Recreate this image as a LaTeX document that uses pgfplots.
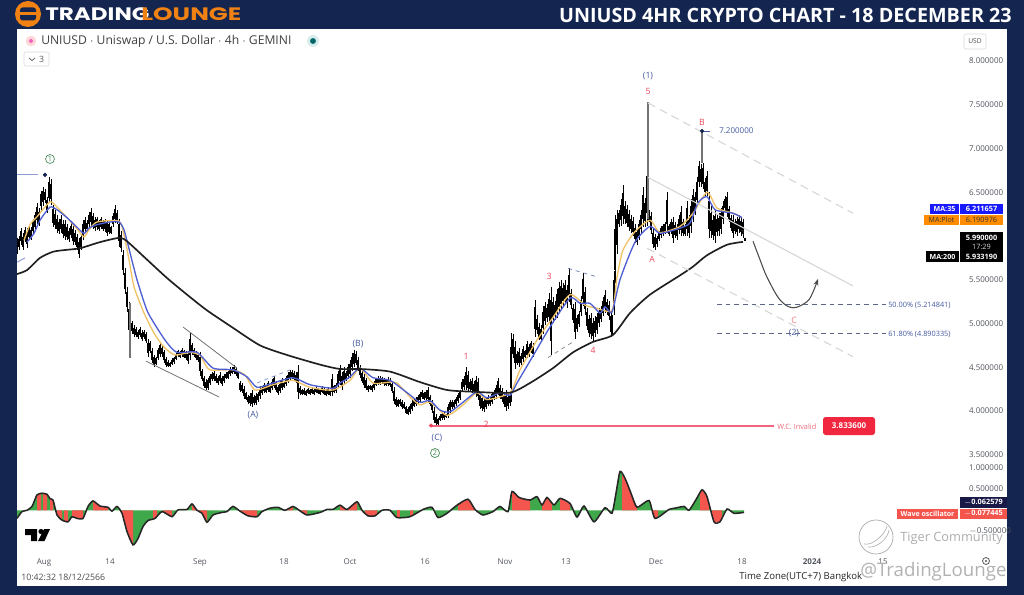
\documentclass[border=0pt]{standalone}
\usepackage{fontspec}
\usepackage{pgfplots}
\usepackage{pgfplotstable}
\pgfplotsset{compat=1.18}
\usetikzlibrary{arrows.meta}
\setmainfont{Open Sans}
\newfontfamily\logofont{Poppins}
\definecolor{navy}{RGB}{20,38,79}
\definecolor{logoorange}{RGB}{240,130,20}
\definecolor{ma35}{RGB}{80,95,210}
\definecolor{maplot}{RGB}{240,195,105}
\definecolor{ribbon}{RGB}{140,155,210}
\definecolor{waveblue}{RGB}{70,90,160}
\definecolor{wavered}{RGB}{235,70,90}
\definecolor{invalidline}{RGB}{240,100,125}
\definecolor{boxred}{RGB}{240,39,63}
\definecolor{greenlabel}{RGB}{70,140,90}
\definecolor{oscgreen}{RGB}{62,168,75}
\definecolor{oscred}{RGB}{244,86,78}
\definecolor{ticktext}{RGB}{80,84,92}
\newcommand{\fs}[1]{\fontsize{#1}{#1}\selectfont}

% x columns = horizontal position on the time scale, y = price
% x h l
\pgfplotstableread{
x h l
17 5.98 5.79
19 6.00 5.84
21 6.09 5.90
23 6.03 5.84
25 6.10 5.93
27 6.09 5.86
29 6.12 5.96
31 6.10 5.96
33 6.20 6.02
35 6.28 6.06
37 6.38 6.14
39 6.32 6.12
41 6.52 6.30
43 6.56 6.34
45 6.54 6.38
47 6.45 6.26
49 6.67 6.38
51 6.65 6.36
53 6.36 6.10
55 6.30 6.08
57 6.24 6.04
59 6.20 6.02
61 6.24 6.04
63 6.18 5.98
65 6.18 5.95
67 6.14 5.95
69 6.09 5.93
71 6.15 5.98
73 6.12 5.90
75 6.07 5.90
77 6.02 5.84
79 5.98 5.75
81 6.02 5.84
83 6.18 5.95
85 6.22 6.04
87 6.18 6.05
89 6.28 6.10
91 6.32 6.12
93 6.26 6.08
95 6.22 6.06
97 6.22 6.07
99 6.18 6.06
101 6.22 6.08
103 6.18 6.06
105 6.20 6.05
107 6.18 6.00
109 6.16 6.02
111 6.12 6.02
113 6.26 6.10
115 6.35 6.15
117 6.30 6.14
119 6.20 5.88
121 6.06 5.82
123 5.84 5.55
125 5.63 5.34
127 5.42 5.13
129 5.25 4.85
132 5.03 4.88
134 4.98 4.85
136 4.96 4.84
138 4.92 4.82
140 4.96 4.84
142 4.92 4.80
144 4.93 4.82
146 4.90 4.78
148 4.82 4.62
150 4.80 4.66
152 4.72 4.55
154 4.64 4.50
156 4.62 4.52
158 4.72 4.58
160 4.79 4.62
162 4.75 4.62
164 4.70 4.55
166 4.62 4.50
168 4.58 4.50
170 4.56 4.50
172 4.60 4.52
174 4.62 4.54
176 4.66 4.58
178 4.70 4.62
180 4.68 4.60
182 4.72 4.62
184 4.70 4.60
186 4.68 4.58
188 4.68 4.54
190 4.89 4.58
192 4.78 4.64
194 4.72 4.62
196 4.68 4.58
198 4.66 4.56
200 4.67 4.40
202 4.48 4.34
204 4.40 4.26
206 4.36 4.24
208 4.38 4.24
210 4.42 4.30
212 4.44 4.34
214 4.46 4.34
216 4.42 4.32
218 4.40 4.30
220 4.44 4.32
222 4.40 4.28
224 4.42 4.32
226 4.44 4.36
228 4.46 4.36
230 4.50 4.40
232 4.50 4.42
234 4.52 4.42
236 4.50 4.40
238 4.46 4.36
240 4.34 4.22
242 4.32 4.20
244 4.28 4.14
246 4.22 4.12
248 4.18 4.08
250 4.20 4.06
252 4.24 4.04
254 4.18 4.07
256 4.20 4.07
258 4.22 4.10
260 4.28 4.14
262 4.28 4.18
264 4.32 4.20
266 4.30 4.20
268 4.34 4.22
270 4.30 4.20
272 4.36 4.24
274 4.40 4.26
276 4.34 4.22
278 4.30 4.18
280 4.34 4.20
282 4.38 4.24
284 4.34 4.26
286 4.40 4.28
288 4.44 4.32
290 4.47 4.34
292 4.47 4.36
294 4.46 4.34
296 4.44 4.32
298 4.52 4.14
300 4.28 4.18
302 4.25 4.18
304 4.26 4.18
306 4.24 4.17
308 4.26 4.19
310 4.25 4.18
312 4.27 4.19
314 4.26 4.18
316 4.28 4.20
318 4.26 4.19
320 4.25 4.18
322 4.28 4.20
324 4.26 4.18
326 4.25 4.17
328 4.27 4.18
330 4.24 4.17
332 4.42 4.17
334 4.30 4.20
336 4.32 4.20
338 4.46 4.26
340 4.52 4.30
342 4.44 4.24
344 4.50 4.30
346 4.46 4.34
348 4.54 4.36
350 4.58 4.38
352 4.66 4.46
354 4.70 4.50
356 4.68 4.52
358 4.62 4.46
360 4.52 4.38
362 4.46 4.32
364 4.42 4.26
366 4.38 4.24
368 4.30 4.22
370 4.30 4.24
372 4.30 4.22
374 4.34 4.24
376 4.38 4.28
378 4.40 4.30
380 4.40 4.30
382 4.39 4.31
384 4.38 4.29
386 4.37 4.28
388 4.39 4.29
390 4.38 4.27
392 4.34 4.20
394 4.27 4.08
396 4.16 4.04
398 4.14 4.04
400 4.14 4.06
402 4.12 4.02
404 4.10 4.02
406 4.06 3.96
408 4.04 3.95
410 4.08 3.97
412 4.12 4.00
414 4.14 4.04
416 4.16 4.06
418 4.18 4.08
420 4.22 4.10
422 4.24 4.14
424 4.22 4.12
426 4.24 4.12
428 4.27 4.10
430 4.18 4.06
432 4.12 3.98
434 4.04 3.86
436 3.96 3.84
438 3.92 3.84
440 3.96 3.88
442 3.98 3.90
444 4.00 3.90
446 3.96 3.92
448 4.08 3.92
450 4.13 3.98
452 4.13 4.02
454 4.12 4.02
456 4.16 4.06
458 4.21 4.09
460 4.24 4.12
462 4.36 4.22
464 4.40 4.24
466 4.50 4.24
468 4.46 4.22
470 4.36 4.22
472 4.38 4.20
474 4.34 4.18
476 4.40 4.16
478 4.38 4.12
480 4.22 4.02
482 4.18 4.00
484 4.14 3.99
486 4.16 4.02
488 4.18 4.06
490 4.16 4.06
492 4.22 4.08
494 4.24 4.12
496 4.30 4.14
498 4.38 4.18
500 4.30 4.14
502 4.26 4.10
504 4.22 4.04
506 4.24 4.00
508 4.20 4.02
510 4.22 4.06
511 4.89 4.10
513 4.88 4.60
515 4.80 4.48
517 4.68 4.52
519 4.72 4.50
521 4.66 4.52
523 4.74 4.56
525 4.70 4.60
527 4.80 4.60
529 4.76 4.62
531 4.80 4.66
533 4.78 4.62
535 5.27 4.85
537 5.10 4.88
539 5.00 4.81
541 4.98 4.79
543 5.20 4.88
545 5.25 4.98
547 5.22 5.02
549 5.35 5.00
551 5.42 4.64
553 5.30 5.00
555 5.26 5.04
557 5.40 5.06
559 5.48 5.12
561 5.50 5.16
563 5.46 5.20
565 5.50 5.22
567 5.44 5.18
569 5.63 5.24
571 5.40 5.16
573 5.22 5.00
575 5.25 4.82
577 5.10 4.90
579 5.14 4.96
581 5.32 5.08
583 5.58 5.20
585 5.42 5.10
587 5.18 4.92
589 5.10 4.84
591 5.12 4.82
593 5.06 4.80
595 5.08 4.84
597 5.12 4.88
599 5.18 4.96
601 5.20 5.02
603 5.30 5.08
605 5.38 5.12
607 5.28 5.10
609 5.26 5.04
611 5.14 4.84
612 5.10 4.87
614 5.60 5.10
615 6.24 5.46
617 6.30 5.80
619 6.30 6.10
621 6.42 6.12
623 6.58 6.14
625 6.40 6.14
627 6.36 6.10
629 6.30 6.06
631 6.24 6.04
633 6.22 6.00
635 6.14 5.92
637 6.08 5.90
639 6.18 5.96
641 6.30 6.02
643 6.56 6.10
645 6.44 6.10
647 6.83 6.12
649 6.30 6.16
651 6.28 6.02
653 6.08 5.86
655 6.02 5.84
657 6.00 5.88
659 6.06 5.94
661 6.12 5.98
663 6.14 6.00
665 6.16 6.02
667 6.50 6.04
669 6.14 6.00
671 6.20 6.02
673 6.22 5.92
675 6.16 5.98
677 6.14 5.96
679 6.24 6.02
681 6.34 6.00
683 6.20 6.00
685 6.14 6.00
687 6.40 6.00
689 6.24 5.98
691 6.42 6.04
693 6.54 6.16
695 6.50 6.24
697 6.68 6.34
699 6.86 6.56
701 6.82 6.56
703 6.84 6.54
705 6.66 6.46
707 6.74 6.46
709 6.50 5.98
711 6.34 5.98
713 6.24 5.96
715 6.30 5.92
717 6.24 6.00
719 6.26 6.00
721 6.32 6.02
723 6.40 6.14
725 6.46 6.28
727 6.50 6.22
729 6.34 6.16
731 6.24 6.06
733 6.24 5.98
735 6.20 6.02
737 6.22 6.00
739 6.24 6.04
741 6.22 6.00
743 6.20 5.98
745 5.98 5.94
}\candles

\pgfplotstableread{
x h l
130 5.23 4.60
648 7.53 6.20
702 7.20 6.84
}\spikes

\pgfplotstableread{
x y
17 5.565
27 5.61
40 5.75
53 5.82
65 5.84
80 5.86
100 5.93
120 5.98
128 5.93
147 5.73
167 5.52
187 5.33
207 5.15
233 4.95
260 4.75
287 4.64
320 4.53
340 4.48
360 4.48
390 4.45
420 4.33
447 4.24
473 4.22
510 4.21
530 4.32
553 4.49
573 4.67
593 4.79
613 4.87
630 5.12
650 5.33
680 5.55
693 5.65
707 5.78
727 5.90
743 5.933
}\matwohundred

\pgfplotstableread{
x y
27 5.93
34 6.03
40 6.18
50 6.33
57 6.30
67 6.21
77 6.10
84 6.03
89 6.09
97 6.13
110 6.16
119 6.16
124 6.07
130 5.81
137 5.50
147 5.15
157 4.95
167 4.78
177 4.67
197 4.67
213 4.49
233 4.47
247 4.39
257 4.27
273 4.32
293 4.38
310 4.30
333 4.26
340 4.32
350 4.39
360 4.49
373 4.38
390 4.35
407 4.21
420 4.10
430 4.12
440 4.01
450 3.99
463 4.10
477 4.22
487 4.15
500 4.21
510 4.18
517 4.32
532 4.61
550 4.96
570 5.29
580 5.23
590 5.23
600 5.12
605 5.19
612 5.13
620 5.50
635 5.93
650 6.11
660 6.03
680 6.09
690 6.15
698 6.38
707 6.45
715 6.30
733 6.26
742 6.21
}\mathirtyfive

\pgfplotstableread{
x y
24 5.95
30 6.13
37 6.22
50 6.39
57 6.33
67 6.21
77 6.08
84 5.99
89 6.07
97 6.16
119 6.17
124 6.01
129 5.73
134 5.42
144 5.12
154 4.89
164 4.73
175 4.64
190 4.67
200 4.64
203 4.58
210 4.47
233 4.47
245 4.41
255 4.24
273 4.30
293 4.35
310 4.27
333 4.24
350 4.35
360 4.49
373 4.32
390 4.33
397 4.32
410 4.16
420 4.07
430 4.10
447 3.95
463 4.07
477 4.21
487 4.13
510 4.21
520 4.47
537 4.81
553 5.07
570 5.33
585 5.21
595 5.18
612 5.15
617 5.53
623 5.84
635 6.05
650 6.18
660 6.04
680 6.11
693 6.26
707 6.50
717 6.32
733 6.26
742 6.21
}\maplotdata

\pgfplotstableread{
x y
17 -.19
22 -.03
27 0
32 .09
37 .36
42 .40
47 .375
50 .27
53 .24
57 -.11
62 -.23
68 -.27
72 -.15
77 -.19
83 -.19
88 .09
93 .22
100 .10
108 .07
112 -.02
117 .09
122 -.07
127 -.5
133 -.81
138 -.66
143 -.38
148 -.24
155 -.19
162 -.03
172 -.15
178 .01
187 .02
192 .15
197 0
202 -.07
207 -.28
213 -.11
222 -.05
227 -.03
233 .09
240 -.02
248 -.13
257 -.15
262 -.03
270 .05
278 .07
285 0
293 .09
298 .02
307 -.11
320 -.05
327 .02
333 .02
340 .12
347 .02
357 .2
362 0
368 -.13
375 -.13
382 0
390 0
397 -.17
410 -.15
423 .02
432 .07
438 -.17
447 -.07
457 .12
468 .26
475 .02
483 -.11
493 -.03
500 .09
508 -.03
512 .44
519 .30
530 .24
537 .32
542 .125
547 .30
554 .125
560 .28
570 .16
577 -.16
584 .10
594 -.27
605 .06
612 -.07
616 .40
620 .91
625 .75
631 .40
637 .07
649 .23
655 -.19
669 .02
675 .05
684 .09
689 0
696 .25
702 .48
707 .32
714 -.27
720 -.27
727 .03
734 -.07
744 -.05
}\osc

\newcommand{\redarea}[1]{\addplot[fill=oscred, draw=none, forget plot] coordinates {#1} \closedcycle;}

\begin{document}
\begin{tikzpicture}[font=\fs{6}]
\path[use as bounding box] (0,0) rectangle (768pt,-446.25pt);
\begin{scope}[x=0.75pt, y=-0.75pt]
\fill[navy] (0,0) rectangle (1024,595);
\fill[white] (17,29) rectangle (1007,586);

% header
\fill[logoorange] (28,14) circle (9.75pt);
\fill[navy, rounded corners=2pt] (20,7.5) rectangle (36,20.5);
\fill[logoorange] (19,12.5) rectangle (37,15.5);
\node[anchor=west, inner sep=0, xscale=1.28, text=white, font=\logofont\bfseries\fs{13.5}] at (45,14) {TRADING};
\node[anchor=west, inner sep=0, xscale=1.38, text=logoorange, font=\logofont\bfseries\fs{13.5}] at (141,14) {LOUNGE};
\node[anchor=east, inner sep=0, text=white, font=\bfseries\fs{14.8}] at (1012,15) {UNIUSD 4HR CRYPTO CHART - 18 DECEMBER 23};
\end{scope}

% price pane
\begin{axis}[
  at={(12.75pt,-21.75pt)}, anchor=north west, scale only axis,
  width=709.5pt, height=324.75pt,
  xmin=17, xmax=963, ymin=3.417, ymax=8.366,
  axis line style={draw=none}, major tick length=0,
  xtick=\empty, ytick={3.5,4,4.5,5,5.5,6,6.5,7,7.5,8},
  yticklabel pos=right, yticklabel style={font=\fs{6}, text=ticktext, xshift=1pt},
  /pgf/number format/assume math mode=true,
  /pgf/number format/fixed, /pgf/number format/fixed zerofill, /pgf/number format/precision=6,
]
% wicks, then bodies over the middle of each range
\addplot[draw=none, forget plot, error bars/.cd, y dir=minus, y explicit, error mark=none,
  error bar style={black, line width=0.45pt}]
  table[x=x, y=h, y error expr=\thisrow{h}-\thisrow{l}] {\candles};
\addplot[draw=none, forget plot, error bars/.cd, y dir=both, y explicit, error mark=none,
  error bar style={black, line width=1.05pt}]
  table[x=x, y expr=(\thisrow{h}+\thisrow{l})/2, y error expr=0.3*(\thisrow{h}-\thisrow{l})] {\candles};
\addplot[draw=none, forget plot, error bars/.cd, y dir=minus, y explicit, error mark=none,
  error bar style={black!55, line width=1.1pt}]
  table[x=x, y=h, y error expr=\thisrow{h}-\thisrow{l}] {\spikes};
\addplot[maplot, line width=1pt, smooth, tension=0.4] table[x=x, y=y] {\maplotdata};
\addplot[ma35, line width=1pt, smooth, tension=0.4] table[x=x, y=y] {\mathirtyfive};
\addplot[black!88, line width=1.25pt, smooth, tension=0.4] table[x=x, y=y] {\matwohundred};
% wave channel
\addplot[black!16, dashed, dash pattern=on 6pt off 4pt, line width=0.8pt] coordinates {(648,7.52)(853,6.26)};
\addplot[black!16, line width=0.8pt] coordinates {(648,6.67)(853,5.43)};
\addplot[black!16, dashed, dash pattern=on 6pt off 4pt, line width=0.8pt] coordinates {(647,5.86)(853,4.62)};
% earlier flag lines
\addplot[black!55, line width=0.6pt] coordinates {(183,4.96)(237,4.49)};
\addplot[black!55, line width=0.6pt] coordinates {(146,4.57)(219,4.16)};
\addplot[ribbon, dashed, line width=0.6pt] coordinates {(257,4.32)(290,4.47)};
\addplot[black!45, dashed, line width=0.6pt] coordinates {(548,4.61)(573,4.79)};
\addplot[waveblue!70, dashed, line width=0.6pt] coordinates {(568,5.63)(598,5.53)};
\addplot[ribbon, line width=0.7pt] coordinates {(17,6.70)(38,6.70)};
\addplot[ribbon, line width=0.7pt] coordinates {(17,5.70)(25,5.75)};
\addplot[only marks, mark=*, mark size=1.4pt, navy] coordinates {(45,6.70)(702,7.20)};
\addplot[waveblue, line width=0.6pt] coordinates {(702,7.20)(710,7.20)};
% fib levels and invalidation
\addplot[navy!70, dash pattern=on 3.5pt off 3pt, line width=0.6pt] coordinates {(717,5.214841)(886,5.214841)};
\addplot[navy!70, dash pattern=on 3.5pt off 3pt, line width=0.6pt] coordinates {(717,4.890335)(886,4.890335)};
\addplot[color=invalidline, solid, line width=1.5pt] coordinates {(431,3.8336)(774,3.8336)};
\addplot[only marks, mark=*, mark size=1.3pt, wavered] coordinates {(431,3.8336)};
% projected path
\addplot[black!70, line width=0.8pt, smooth, tension=0.6, -{Stealth[length=5pt]}]
  coordinates {(753,5.94)(760,5.73)(767,5.53)(780,5.27)(793,5.18)(807,5.25)(813,5.36)(818,5.51)};
\end{axis}

% oscillator pane
\begin{axis}[
  at={(12.75pt,-346.5pt)}, anchor=north west, scale only axis,
  width=709.5pt, height=64.5pt,
  xmin=17, xmax=963, ymin=-0.883, ymax=1.131,
  axis line style={draw=none}, major tick length=0,
  xtick={44,110,200,284,350,425,505,566,656,742,812,883},
  xticklabels={Aug,14,Sep,18,Oct,16,Nov,13,Dec,18,\textbf{2024},15},
  xticklabel style={font=\fs{6}, text=ticktext, yshift=-4.5pt},
  ytick={-0.5,0.5,1},
  yticklabels={$-$0.500000,0.500000,1.000000},
  yticklabel pos=right, yticklabel style={font=\fs{6}, text=ticktext, xshift=1pt},
]
\addplot[fill=oscgreen, draw=none, forget plot] table[x=x, y=y] {\osc} \closedcycle;
\redarea{(37,.36)(41,.39)}
\redarea{(43,.40)(47,.375)}
\redarea{(50,.27)(53,.24)}
\redarea{(57,-.11)(62,-.23)}
\redarea{(64,-.24)(68,-.27)}
\redarea{(72,-.15)(77,-.19)(83,-.19)}
\redarea{(93,.22)(100,.10)(108,.07)}
\redarea{(122,-.07)(127,-.5)(133,-.81)}
\redarea{(153,-.20)(157,-.15)}
\redarea{(163,-.04)(172,-.15)}
\redarea{(192,.15)(197,0)(202,-.07)(207,-.28)}
\redarea{(240,-.02)(248,-.13)(257,-.15)}
\redarea{(287,.03)(293,.09)}
\redarea{(300,-.02)(307,-.11)}
\redarea{(340,.12)(347,.02)(357,.2)}
\redarea{(365,-.07)(368,-.13)(375,-.13)(377,-.08)}
\redarea{(397,-.17)(400,-.17)}
\redarea{(410,-.15)(413,-.12)}
\redarea{(458,.13)(468,.26)(475,.02)}
\redarea{(512,.44)(519,.30)(530,.24)}
\redarea{(542,.125)(547,.30)(552,.15)}
\redarea{(560,.28)(570,.16)}
\redarea{(622,.85)(625,.75)(631,.40)(637,.07)}
\redarea{(652,0)(655,-.19)(658,-.14)}
\redarea{(700,.42)(702,.48)(707,.32)(709,.15)}
\redarea{(712,-.10)(714,-.27)(720,-.27)(722,-.18)}
\addplot[black!85, line width=1.15pt, smooth, tension=0.35] table[x=x, y=y] {\osc};
\end{axis}

\begin{scope}[x=0.75pt, y=-0.75pt]
% legend row
\fill[pink!60] (31,41) circle (4pt);
\fill[magenta!60] (31,41) circle (1.5pt);
\node[anchor=west, inner sep=0, text=black!75, font=\fs{9.1}] at (41,41) {UNIUSD $\cdot$ Uniswap / U.S. Dollar $\cdot$ 4h $\cdot$ GEMINI};
\fill[teal!15] (313,41) circle (4.5pt);
\fill[teal!80!black] (313,41) circle (2.2pt);
\draw[black!15, rounded corners=1.5pt, fill=white] (24,52) rectangle (49,66);
\node[text=black!65, inner sep=0, font=\fs{6.5}] at (41.5,59) {3};
\draw[black!60, line width=0.6pt] (29,58) -- (32,60.5) -- (35,58);
\draw[black!15, rounded corners=1.5pt] (964,34) rectangle (986,49);
\node[text=black!70, inner sep=0, font=\fs{5}] at (975,41.5) {USD};

% wave labels
\tikzset{wb/.style={text=waveblue, inner sep=0, font=\fs{6.5}}, wr/.style={text=wavered, inner sep=0, font=\fs{6.5}},
  circ/.style={circle, draw=greenlabel, text=greenlabel, inner sep=0.6pt, line width=0.5pt, font=\fs{5.5}}}
\node[wb] at (648,76) {(1)};
\node[wr] at (648,91) {5};
\node[wr] at (702,122) {B};
\node[wr] at (652,259) {A};
\node[wr, opacity=.7] at (794,320) {C};
\node[wb] at (794,333) {(2)};
\node[wr] at (549,276) {3};
\node[wr] at (593,350) {4};
\node[wr] at (466,356) {1};
\node[wr] at (486,424) {2};
\node[wb] at (358,344) {(B)};
\node[wb] at (253,415) {(A)};
\node[wb] at (437,438) {(C)};
\node[circ] at (50,159) {1};
\node[circ] at (435,453) {2};
\node[text=black!70, inner sep=0, font=\fs{5.5}] at (743,233) {1};
\node[anchor=west, text=waveblue, inner sep=0, font=\fs{6}] at (719,131) {7.200000};
\node[anchor=west, text=waveblue, inner sep=0, font=\fs{5.5}] at (888,305) {50.00\% (5.214841)};
\node[anchor=west, text=waveblue, inner sep=0, font=\fs{5.5}] at (888,334) {61.80\% (4.890335)};
\node[anchor=west, text=wavered!80, inner sep=0, font=\fs{5.5}] at (777,426.5) {W.C. Invalid};
\fill[boxred, rounded corners=2pt] (823,417) rectangle (875,435);
\node[text=white, inner sep=0, font=\bfseries\fs{6}] at (849,426) {3.833600};

% price scale tags
\fill[blue!90!white] (930,204) rectangle (959,214);
\fill[blue!90!white] (960,204) rectangle (1003,214);
\node[text=white, inner sep=0, font=\bfseries\fs{5.3}] at (944.5,209) {MA:35};
\node[text=white, inner sep=0, font=\bfseries\fs{5.5}] at (981.5,209) {6.211657};
\fill[orange!90!yellow] (924,215) rectangle (959,225);
\fill[orange!90!yellow] (960,215) rectangle (1003,225);
\node[text=black!80, inner sep=0, font=\fs{5.3}] at (941.5,220) {MA:Plot};
\node[text=black!80, inner sep=0, font=\fs{5.5}] at (981.5,220) {6.190976};
\fill[black] (960,232) rectangle (1003,262);
\fill[black] (926,251) rectangle (959,262);
\node[text=white, inner sep=0, font=\bfseries\fs{5.5}] at (981.5,237.5) {5.990000};
\node[text=white!85!black, inner sep=0, font=\fs{5.5}] at (981.5,246.5) {17:29};
\node[text=white, inner sep=0, font=\bfseries\fs{5.5}] at (981.5,256.5) {5.933190};
\node[text=white, inner sep=0, font=\bfseries\fs{5.3}] at (942.5,256.5) {MA:200};
\fill[black!80!blue!90!white] (960,497) rectangle (1007,508);
\node[text=white, inner sep=0, font=\bfseries\fs{5.5}] at (983.5,502.5) {$-$0.062579};
\fill[oscred] (897,508.5) rectangle (958,519);
\fill[oscred] (960,508.5) rectangle (1007,519);
\node[text=white, inner sep=0, font=\bfseries\fs{5.3}] at (927.5,513.7) {Wave oscillator};
\node[text=white, inner sep=0, font=\bfseries\fs{5.5}] at (983.5,513.7) {$-$0.077445};

% tradingview mark
\fill[black] (25,529) -- (37,529) -- (37,541) -- (31,541) -- (31,535) -- (25,535) -- cycle;
\fill[black] (41,531.5) circle (1.9pt);
\fill[black] (44,529) -- (50,529) -- (44.5,541) -- (38,541) -- cycle;

% footer
\node[anchor=west, text=black!70, inner sep=0, font=\fs{6.6}] at (21,577) {10:42:32 18/12/2566};
\node[anchor=west, text=black!85, inner sep=0, font=\fs{7.2}] at (739,577) {Time Zone(UTC+7) Bangkok};
\draw[black!65, line width=0.6pt] (986,561) circle (2.6pt);
\fill[black!65] (986,561) circle (0.9pt);

% watermarks
\draw[black!35, line width=0.5pt] (876,537) circle (12.75pt);
\draw[black!30, line width=0.5pt] (864,544) .. controls (872,546) and (885,535) .. (887,526);
\draw[black!30, line width=0.5pt] (868,547) .. controls (878,548) and (888,538) .. (889,530);
\node[anchor=west, text=black!32, inner sep=0, font=\fs{9.6}] at (900,538.5) {Tiger Community};
\node[anchor=west, text=black!30, inner sep=0, font=\fs{14}] at (860,571.5) {@TradingLounge};
\end{scope}
\end{tikzpicture}
\end{document}
